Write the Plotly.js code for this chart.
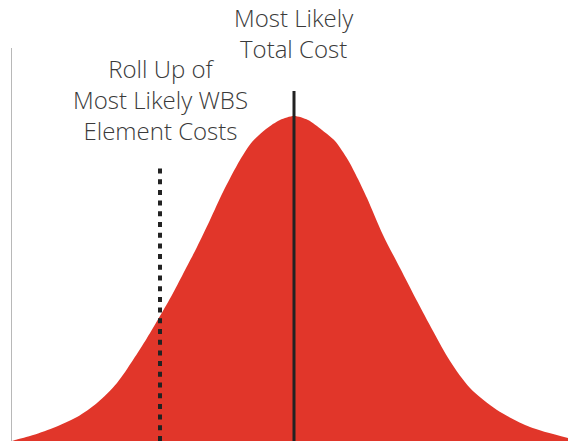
<!DOCTYPE html>
<html>
<head>
<meta charset="utf-8">
<script src="https://cdn.plot.ly/plotly-3.0.1.min.js"></script>
<style>html,body{margin:0;padding:0;background:#fff;}#chart{width:568px;height:441px;}</style>
</head>
<body>
<div id="chart"></div>
<script>
// Cost (x) and probability density (y)
var costValues = [0, 3, 18, 41, 65, 85, 105, 121, 135, 148, 160, 171, 185, 198, 211, 228, 240, 254, 268, 282, 296, 310, 323, 336, 346, 355, 371, 388, 405, 421, 438, 458, 485, 518, 556];
var densityValues = [0, 1, 5, 13, 24, 38, 58, 81, 103, 125, 146, 167, 194, 221, 249, 281, 299, 312, 321, 325, 321, 311, 300, 281, 262, 243, 206, 173, 140, 110, 80, 53, 31, 14, 3];

var mostLikelyTotalX = [282, 282];
var mostLikelyTotalY = [0, 350];
var rollUpX = [148, 148];
var rollUpY = [0, 276];

var labelTotal = "Most Likely<br>Total Cost";
var labelRollUp = "Roll Up of<br>Most Likely WBS<br>Element Costs";

var traces = [
  {x: costValues, y: densityValues, type: 'scatter', mode: 'lines',
   line: {shape: 'spline', smoothing: 0.8, width: 0, color: '#e1362a'}, fill: 'tozeroy', fillcolor: '#e1362a', hoverinfo: 'skip'},
  {x: rollUpX, y: rollUpY, type: 'scatter', mode: 'lines',
   line: {color: '#222222', width: 4, dash: '5px,5.7px'}, hoverinfo: 'skip'},
  {x: mostLikelyTotalX, y: mostLikelyTotalY, type: 'scatter', mode: 'lines',
   line: {color: '#222222', width: 3}, hoverinfo: 'skip'}
];

var fontSpec = {family: '"Open Sans", Lato, sans-serif', size: 24, weight: 300, color: '#3a3a3a'};

var layout = {
  width: 568, height: 441,
  margin: {l: 12, r: 0, t: 48, b: 0, pad: 0},
  paper_bgcolor: '#ffffff', plot_bgcolor: '#ffffff',
  showlegend: false,
  xaxis: {range: [0, 556], showgrid: false, zeroline: false, showline: false, showticklabels: false, ticks: ''},
  yaxis: {range: [0, 393], showgrid: false, zeroline: false, showline: true, linecolor: '#b8b8b8', linewidth: 1.5, showticklabels: false, ticks: ''},
  annotations: [
    {x: mostLikelyTotalX[0], y: 1.038, xref: 'x', yref: 'paper', text: labelTotal, showarrow: false, xanchor: 'center', yanchor: 'middle', font: fontSpec},
    {x: rollUpX[0], y: 0.868, xref: 'x', yref: 'paper', text: labelRollUp, showarrow: false, xanchor: 'center', yanchor: 'middle', font: fontSpec}
  ]
};

Plotly.newPlot('chart', traces, layout, {displayModeBar: false, staticPlot: true});
</script>
</body>
</html>
